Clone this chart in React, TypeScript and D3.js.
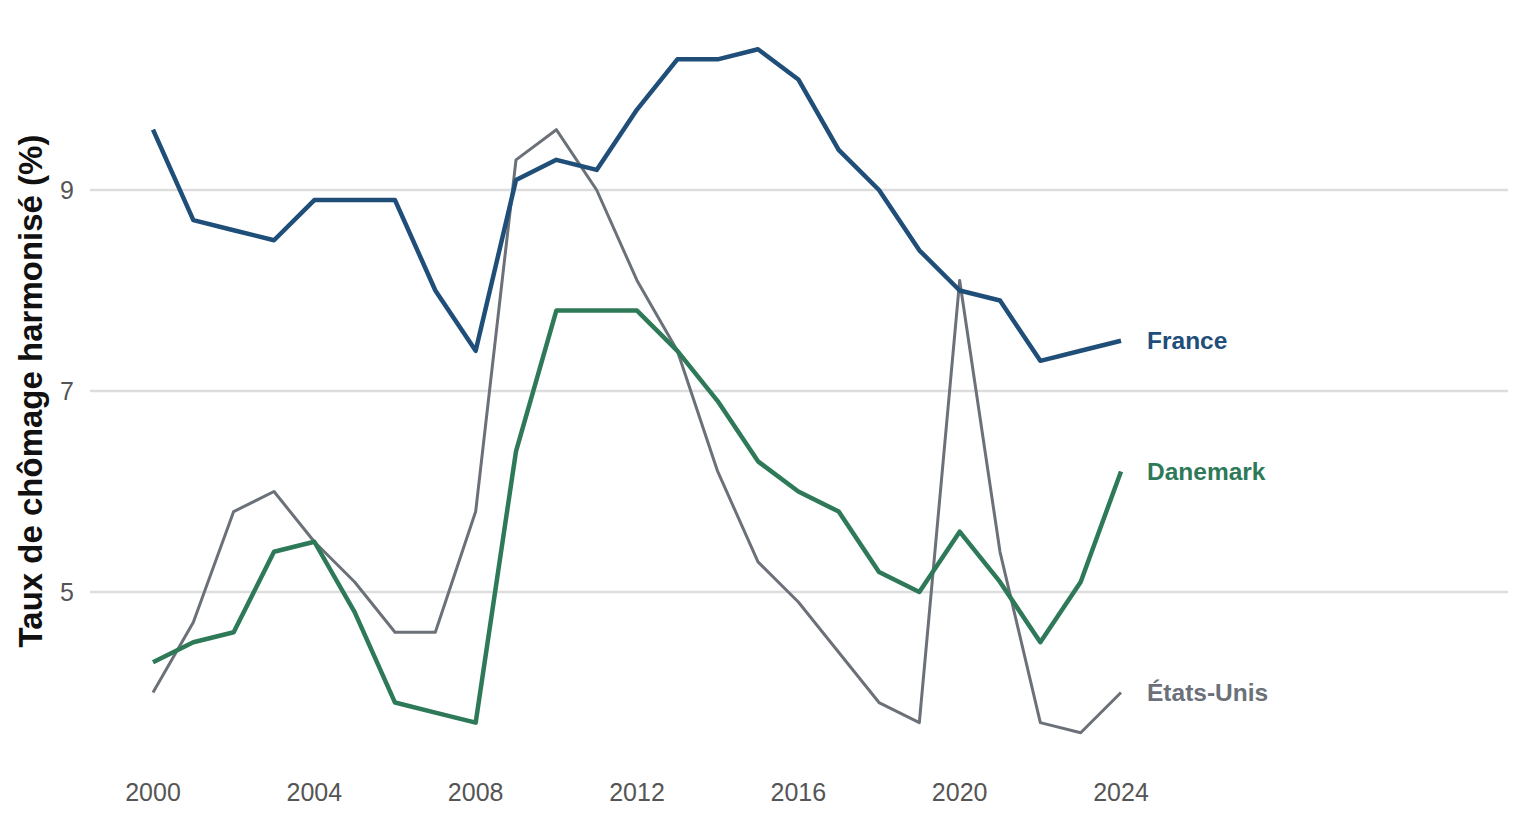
import React from 'react';
import * as d3 from 'd3';

const years = d3.range(2000, 2025);
const france = [9.6, 8.7, 8.6, 8.5, 8.9, 8.9, 8.9, 8.0, 7.4, 9.1, 9.3, 9.2, 9.8, 10.3, 10.3, 10.4, 10.1, 9.4, 9.0, 8.4, 8.0, 7.9, 7.3, 7.4, 7.5];
const danemark = [4.3, 4.5, 4.6, 5.4, 5.5, 4.8, 3.9, 3.8, 3.7, 6.4, 7.8, 7.8, 7.8, 7.4, 6.9, 6.3, 6.0, 5.8, 5.2, 5.0, 5.6, 5.1, 4.5, 5.1, 6.2];
const etatsUnis = [4.0, 4.7, 5.8, 6.0, 5.5, 5.1, 4.6, 4.6, 5.8, 9.3, 9.6, 9.0, 8.1, 7.4, 6.2, 5.3, 4.9, 4.4, 3.9, 3.7, 8.1, 5.4, 3.7, 3.6, 4.0];
const yTicks = [5, 7, 9];
const xTicks = [2000, 2004, 2008, 2012, 2016, 2020, 2024];

const series = [
  { name: 'États-Unis', values: etatsUnis, color: '#6b7079', width: 3 },
  { name: 'Danemark', values: danemark, color: '#2e7a58', width: 4.5 },
  { name: 'France', values: france, color: '#1f4e79', width: 4.5 },
];

export default function App() {
  const x = d3.scaleLinear().domain([2000, 2024]).range([153, 1121]);
  const y = d3.scaleLinear().domain([5, 9]).range([592, 190]);
  const line = d3.line<number>().x((_, i) => x(years[i])).y(d => y(d));
  const font = 'Liberation Sans, Arial, sans-serif';

  return (
    <svg width={1536} height={825} style={{ position: 'absolute', left: 0, top: 0 }} fontFamily={font}>
      {yTicks.map(t => (
        <g key={t}>
          <line x1={90} x2={1508} y1={y(t)} y2={y(t)} stroke="#dddddd" strokeWidth={2.5} />
          <text x={74} y={y(t)} dy="0.35em" textAnchor="end" fontSize={25} fill="#555">{t}</text>
        </g>
      ))}
      {xTicks.map(t => (
        <text key={t} x={x(t)} y={801} textAnchor="middle" fontSize={25} fill="#555">{t}</text>
      ))}
      <text transform="translate(42,391) rotate(-90)" textAnchor="middle" fontSize={33} fontWeight="bold" fill="#111">
        Taux de chômage harmonisé (%)
      </text>
      {series.map(s => (
        <g key={s.name}>
          <path d={line(s.values) || ''} fill="none" stroke={s.color} strokeWidth={s.width} strokeLinejoin="round" />
          <text x={1147} y={y(s.values[s.values.length - 1])} dy="0.35em" fontSize={24.5} fontWeight="bold" fill={s.color}>{s.name}</text>
        </g>
      ))}
    </svg>
  );
}
